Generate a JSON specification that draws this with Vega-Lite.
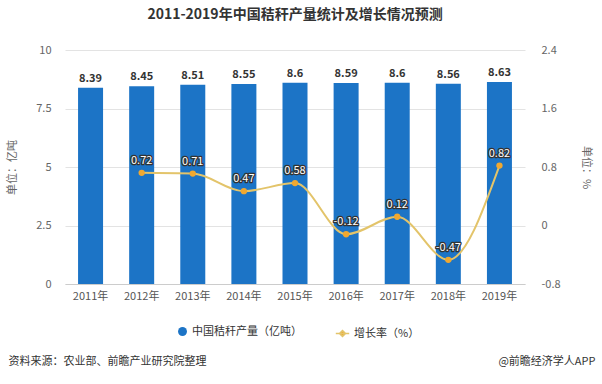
{
  "$schema": "https://vega.github.io/schema/vega-lite/v6.json",
  "width": 460,
  "height": 234,
  "autosize": {"type": "none"},
  "padding": {"left": 65, "top": 50, "right": 77, "bottom": 100},
  "background": "white",
  "config": {
    "font": "Noto Sans CJK SC",
    "view": {"stroke": null},
    "axis": {"labelFont": "Noto Sans CJK SC", "titleFont": "Noto Sans CJK SC"},
    "legend": {"labelFont": "Noto Sans CJK SC"}
  },
  "title": {
    "text": "2011-2019年中国秸秆产量统计及增长情况预测",
    "fontSize": 14,
    "fontWeight": "bold",
    "color": "#333333",
    "anchor": "middle",
    "offset": 22
  },
  "data": {
    "values": [
      {"year": "2011年", "output": 8.39, "growth": null, "growthLabel": null},
      {"year": "2012年", "output": 8.45, "growth": 0.72, "growthLabel": "0.72"},
      {"year": "2013年", "output": 8.51, "growth": 0.71, "growthLabel": "0.71"},
      {"year": "2014年", "output": 8.55, "growth": 0.47, "growthLabel": "0.47"},
      {"year": "2015年", "output": 8.6, "growth": 0.58, "growthLabel": "0.58"},
      {"year": "2016年", "output": 8.59, "growth": -0.12, "growthLabel": "-0.12"},
      {"year": "2017年", "output": 8.6, "growth": 0.12, "growthLabel": "0.12"},
      {"year": "2018年", "output": 8.56, "growth": -0.47, "growthLabel": "-0.47"},
      {"year": "2019年", "output": 8.63, "growth": 0.82, "growthLabel": "0.82"}
    ]
  },
  "layer": [
    {
      "layer": [
        {
          "mark": {"type": "bar", "color": "#1c74c6", "size": 25},
          "encoding": {
            "x": {
              "field": "year", "type": "nominal", "sort": null,
              "scale": {"paddingInner": 0.5, "paddingOuter": 0.25},
              "axis": {
                "labelAngle": 0, "labelFontSize": 11, "labelColor": "#555555", "labelPadding": 6,
                "ticks": false, "domainColor": "#cccccc", "grid": false,
                "title": "资料来源：农业部、前瞻产业研究院整理",
                "titleFontSize": 11, "titleFontWeight": "normal", "titleColor": "#333333",
                "titleAnchor": "start", "titleAlign": "left", "titleBaseline": "middle",
                "titleX": -57, "titleY": 77
              }
            },
            "y": {
              "field": "output", "type": "quantitative",
              "scale": {"domain": [0, 10], "nice": false},
              "axis": {
                "values": [0, 2.5, 5, 7.5, 10],
                "labelExpr": "datum.value == 2.5 ? '2.5' : datum.value == 7.5 ? '7.5' : format(datum.value, 'd')",
                "grid": true, "gridColor": "#e3e3e3", "domain": false, "ticks": false,
                "labelFontSize": 11, "labelColor": "#666666", "labelPadding": 14,
                "title": null
              }
            },
            "color": {
              "datum": "中国秸秆产量（亿吨）",
              "scale": {"range": ["#1c74c6"]},
              "legend": {
                "orient": "none", "legendX": 112, "legendY": 276,
                "symbolType": "circle", "symbolSize": 80, "title": null,
                "labelFontSize": 11, "labelColor": "#333333"
              }
            }
          }
        },
        {
          "mark": {"type": "text", "dy": -9, "fontSize": 11, "fontWeight": "bold", "color": "#333333"},
          "encoding": {
            "x": {"field": "year", "type": "nominal", "sort": null, "axis": {
              "orient": "bottom", "labels": false, "ticks": false, "domain": false, "grid": false,
              "title": "单位：亿吨", "titleFontSize": 11, "titleFontWeight": "normal", "titleColor": "#666666",
              "titleAngle": -90, "titleAlign": "center", "titleBaseline": "middle", "titleX": -53, "titleY": -117
            }},
            "y": {"field": "output", "type": "quantitative"},
            "text": {"field": "output", "type": "quantitative"}
          }
        }
      ],
      "resolve": {"axis": {"x": "independent"}}
    },
    {
      "transform": [{"filter": "datum.growth != null"}],
      "layer": [
        {
          "mark": {"type": "line", "interpolate": "monotone", "strokeWidth": 2, "color": "#e3c46a"},
          "encoding": {
            "x": {"field": "year", "type": "nominal", "sort": null, "axis": {
              "orient": "bottom", "labels": false, "ticks": false, "domain": false, "grid": false,
              "title": "@前瞻经济学人APP", "titleFontSize": 11, "titleFontWeight": "normal", "titleColor": "#333333",
              "titleAnchor": "end", "titleAlign": "right", "titleBaseline": "middle", "titleX": 530, "titleY": 77
            }},
            "y": {
              "field": "growth", "type": "quantitative",
              "scale": {"domain": [-0.8, 2.4], "nice": false},
              "axis": {
                "orient": "right", "values": [-0.8, 0, 0.8, 1.6, 2.4],
                "labelExpr": "datum.value == 0 ? '0' : replace(format(datum.value, '.1f'), '\u2212', '-')",
                "grid": false, "domain": false, "ticks": false,
                "labelFontSize": 11, "labelColor": "#666666", "labelPadding": 16,
                "title": null
              }
            },
            "stroke": {
              "datum": "增长率（%）",
              "scale": {"range": ["#e3c46a"]},
              "legend": {
                "orient": "none", "legendX": 270, "legendY": 276,
                "symbolType": "M-1,0L1,0M0,-0.45L0.45,0L0,0.45L-0.45,0Z",
                "symbolFillColor": "#f0a830", "symbolStrokeColor": "#e3c46a", "symbolSize": 180, "symbolStrokeWidth": 1.5,
                "title": null, "labelFontSize": 11, "labelColor": "#333333"
              }
            }
          }
        },
        {
          "mark": {"type": "point", "shape": "circle", "filled": true, "size": 40, "color": "#f0a830", "opacity": 1},
          "encoding": {
            "x": {"field": "year", "type": "nominal", "sort": null, "axis": null},
            "y": {"field": "growth", "type": "quantitative"}
          }
        },
        {
          "mark": {"type": "text", "dy": -12, "fontSize": 11, "stroke": "#333333", "strokeWidth": 2.5, "strokeJoin": "round"},
          "encoding": {
            "x": {"field": "year", "type": "nominal", "sort": null, "axis": {
              "orient": "bottom", "labels": false, "ticks": false, "domain": false, "grid": false,
              "title": "单位：%", "titleFontSize": 11, "titleFontWeight": "normal", "titleColor": "#666666",
              "titleAngle": 90, "titleAlign": "center", "titleBaseline": "middle", "titleX": 520, "titleY": -117
            }},
            "y": {"field": "growth", "type": "quantitative"},
            "text": {"field": "growthLabel", "type": "nominal"}
          }
        },
        {
          "mark": {"type": "text", "dy": -12, "fontSize": 11, "fill": "#ffffff"},
          "encoding": {
            "x": {"field": "year", "type": "nominal", "sort": null, "axis": null},
            "y": {"field": "growth", "type": "quantitative"},
            "text": {"field": "growthLabel", "type": "nominal"}
          }
        }
      ],
      "resolve": {"axis": {"x": "independent"}}
    }
  ],
  "resolve": {"scale": {"y": "independent"}, "axis": {"x": "independent", "y": "independent"}}
}
